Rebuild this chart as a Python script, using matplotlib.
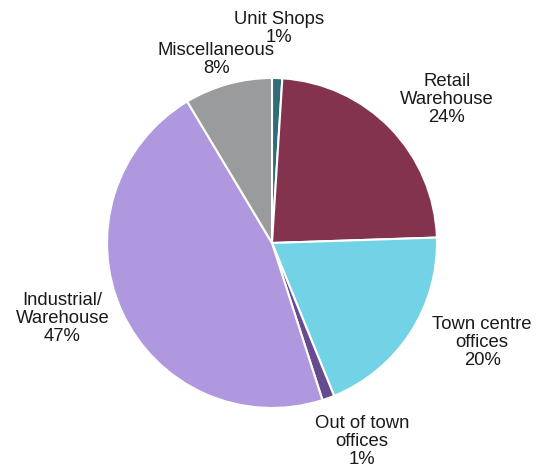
import matplotlib.pyplot as plt
import numpy as np

plt.rcParams.update({
    "font.family": ["Liberation Sans", "DejaVu Sans"],
    "font.size": 13.3,
})

# Sector split (shown labels are rounded)
categories = ['Unit Shops', 'Retail\nWarehouse', 'Town centre\noffices',
              'Out of town\noffices', 'Industrial/\nWarehouse', 'Miscellaneous']
shares = [1.0, 23.5, 19.4, 1.2, 46.4, 8.6]
pct_labels = ['1%', '24%', '20%', '1%', '47%', '8%']
colors = ['#2E6E78', '#84334E', '#72D3E6', '#684A8E', '#AF98DD', '#9A9B9D']

# per-label distance from centre (in radii) and angle nudge (deg)
label_dist = [1.30, 1.37, 1.41, 1.32, 1.35, 1.16]
label_nudge = [0, -4.8, 7.6, 4.4, -4.5, 1.5]


def draw_pie():
    fig = plt.figure(figsize=(5.36, 4.67), dpi=100)
    ax = fig.add_axes([0, 0, 1, 1])
    wedges, _ = ax.pie(shares, colors=colors, startangle=90, counterclock=False,
                       radius=1.0,
                       wedgeprops=dict(edgecolor='white', linewidth=1.5))
    for w, cat, pct, d, nd in zip(wedges, categories, pct_labels,
                                 label_dist, label_nudge):
        ang = np.deg2rad((w.theta1 + w.theta2) / 2 + nd)
        ax.text(d * np.cos(ang), d * np.sin(ang), f'{cat}\n{pct}',
                ha='center', va='center', multialignment='center',
                color='#1a1a1a', linespacing=1.08)
    ax.set_xlim(-272 / 165, (536 - 272) / 165)
    ax.set_ylim(-(467 - 243) / 165, 243 / 165)
    ax.axis('off')
    fig.savefig('out.png', dpi=100)


if __name__ == "__main__":
    draw_pie()
